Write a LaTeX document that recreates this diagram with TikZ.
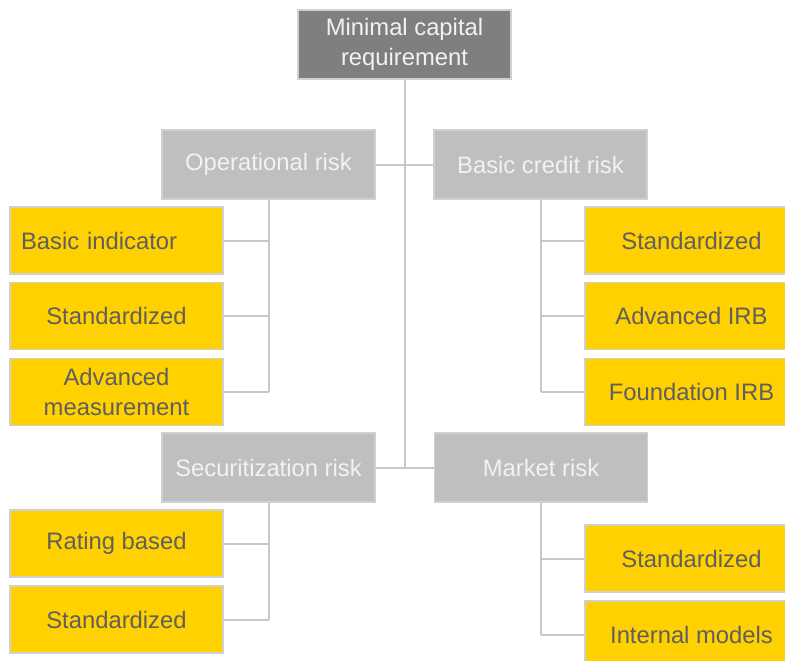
\documentclass[tikz,border=0pt]{standalone}
\usepackage{fontspec}
\setmainfont{Liberation Sans}
\definecolor{ylw}{HTML}{FFD100}
\definecolor{midgray}{HTML}{BFBFBF}
\definecolor{darkgray}{HTML}{7F7F7F}
\definecolor{edgegray}{HTML}{D0D0D0}
\definecolor{linegray}{HTML}{C8C8C8}
\definecolor{txtgray}{HTML}{5F5F5F}
\definecolor{txtwhite}{HTML}{F2F2F2}
\begin{document}
\begin{tikzpicture}[x=1pt,y=-1pt,
  base/.style={draw=edgegray,line width=1.5pt,minimum width=213pt,inner sep=0pt,align=center,
    font=\fontsize{23.8}{29.5}\selectfont},
  topbox/.style={base,fill=darkgray,text=txtwhite,minimum height=69pt},
  midbox/.style={base,fill=midgray,text=txtwhite,minimum height=69pt},
  leaf/.style={base,fill=ylw,text=txtgray,minimum height=67pt},
  conn/.style={draw=linegray,line width=2pt}]
\useasboundingbox (0,0) rectangle (785,661);
\clip (0,0) rectangle (785,661);
\fill[white] (0,0) rectangle (785,661);

\coordinate (tjoin) at (404.5,467.5);
\coordinate (oj) at (268.5,392);
\coordinate (bj) at (541,392);
\coordinate (sj) at (268.5,619.5);
\coordinate (mj) at (541,634.5);

\node[topbox] (top) at (404.5,44.5) {Minimal capital\\requirement};
\node[midbox] (opr) at (268.5,164.5) {Operational risk};
\node[midbox] (bcr) at (540.5,164.5) {Basic credit risk};
\node[midbox] (sec) at (268.5,467.5) {Securitization risk};
\node[midbox] (mkt) at (541,467.5) {Market risk};

\node[leaf,text width=191pt,align=left,inner xsep=11pt] (bi) at (116.5,240.5) {Basic indicator};
\node[leaf] (os) at (116.5,316) {Standardized};
\node[leaf] (am) at (116.5,392) {Advanced\\measurement};
\node[leaf] (rb) at (116.5,543.5) {Rating based};
\node[leaf] (ss) at (116.5,619.5) {Standardized};

\node[leaf] (cs) at (691.5,240.5) {Standardized};
\node[leaf] (ai) at (691.5,316) {Advanced IRB};
\node[leaf] (fi) at (691.5,392) {Foundation IRB};
\node[leaf] (ms) at (691.5,558.5) {Standardized};
\node[leaf] (im) at (691.5,634.5) {Internal models};

% trunk
\draw[conn] (top.south) -- (tjoin);
\draw[conn] (opr.east) -- (opr.east -| top);
\draw[conn] (bcr.west) -- (bcr.west -| top);
\draw[conn] (sec.east) -- (tjoin);
\draw[conn] (mkt.west) -- (tjoin);

% operational branch
\draw[conn] (opr.south) -- (oj);
\draw[conn] (bi.east) -- (bi.east -| opr);
\draw[conn] (os.east) -- (os.east -| opr);
\draw[conn] (am.east) -- (oj);

% basic credit branch
\draw[conn] (bcr.south -| bj) -- (bj);
\draw[conn] (cs.west) -- (cs.west -| bj);
\draw[conn] (ai.west) -- (ai.west -| bj);
\draw[conn] (fi.west) -- (bj);

% securitization branch
\draw[conn] (sec.south) -- (sj);
\draw[conn] (rb.east) -- (rb.east -| sec);
\draw[conn] (ss.east) -- (sj);

% market branch
\draw[conn] (mkt.south -| mj) -- (mj);
\draw[conn] (ms.west) -- (ms.west -| mj);
\draw[conn] (im.west) -- (mj);
\end{tikzpicture}
\end{document}
